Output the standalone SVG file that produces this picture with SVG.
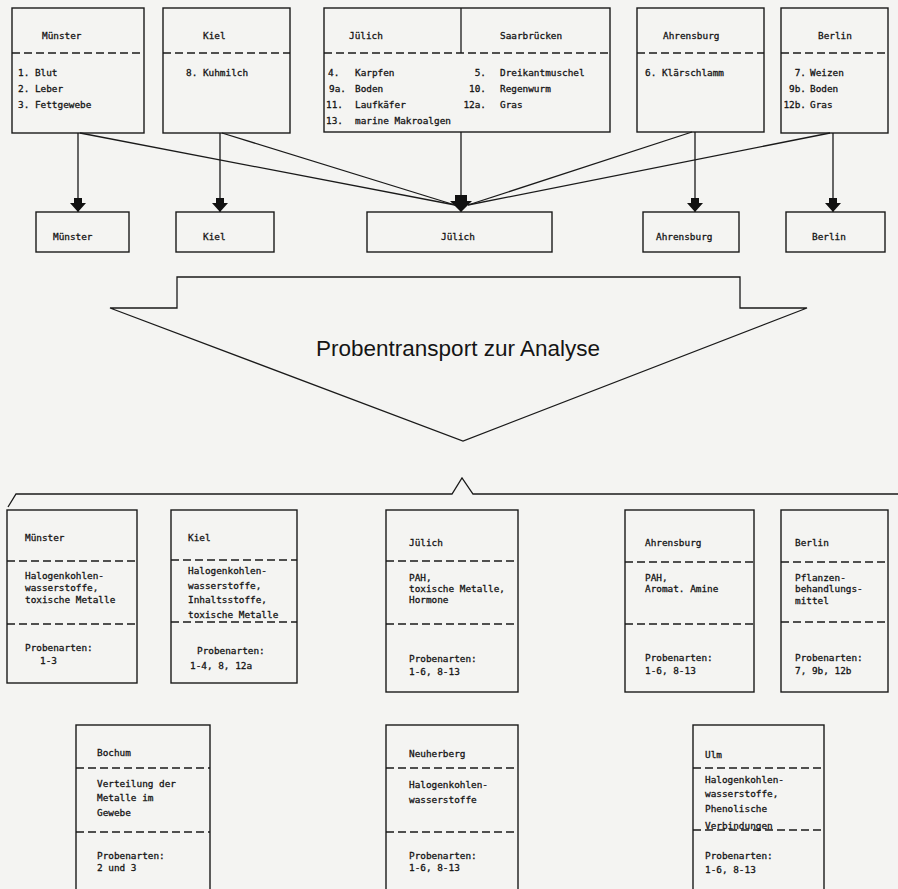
<svg xmlns="http://www.w3.org/2000/svg" width="898" height="889" viewBox="0 0 898 889">
<style>
.bx{fill:none;stroke:#1a1a1a;stroke-width:1.4}
.ds{fill:none;stroke:#1a1a1a;stroke-width:1.3;stroke-dasharray:8 4}
.ln{fill:none;stroke:#1a1a1a;stroke-width:1.3}
.t{font-family:"DejaVu Sans Mono","Liberation Mono",monospace;font-size:9.4px;fill:#151515;stroke:#151515;stroke-width:0.3}
.e{text-anchor:end}
.big{font-family:"Liberation Sans",Arial,sans-serif;font-size:22.5px;fill:#151515;text-anchor:middle}
</style>
<defs>
<marker id="ah" markerUnits="userSpaceOnUse" viewBox="-15 -10 16 20" markerWidth="16" markerHeight="20" refX="0" refY="0" orient="auto">
<path d="M-14,-4 L-9,-4 L-9,-8 L0,0 L-9,8 L-9,4 L-14,4 Z" fill="#111"/>
</marker>
<marker id="ahb" markerUnits="userSpaceOnUse" viewBox="-18 -12 19 24" markerWidth="19" markerHeight="24" refX="0" refY="0" orient="auto">
<path d="M-17,-6 L-11,-6 L-11,-11 L0,0 L-11,11 L-11,6 L-17,6 Z" fill="#111"/>
</marker>
</defs>
<rect x="0" y="0" width="898" height="889" fill="#f4f4f2"/>

<!-- top source boxes -->
<g id="src-muenster">
<rect class="bx" x="12" y="8" width="132" height="125"/>
<line class="ds" x1="12" y1="53" x2="144" y2="53"/>
<text class="t" x="42" y="39">Münster</text>
<text class="t" x="18" y="76">1. Blut</text>
<text class="t" x="18" y="92">2. Leber</text>
<text class="t" x="18" y="108">3. Fettgewebe</text>
</g>
<g id="src-kiel">
<rect class="bx" x="163" y="8" width="127" height="125"/>
<line class="ds" x1="163" y1="53" x2="290" y2="53"/>
<text class="t" x="203" y="39">Kiel</text>
<text class="t" x="186" y="76">8. Kuhmilch</text>
</g>
<g id="src-juelich-saarbruecken">
<rect class="bx" x="324" y="8" width="286" height="124"/>
<line class="ln" x1="461" y1="8" x2="461" y2="53"/>
<line class="ds" x1="324" y1="53" x2="610" y2="53"/>
<text class="t" x="349" y="39">Jülich</text>
<text class="t" x="500" y="39">Saarbrücken</text>
<text class="t" x="328" y="76">4.</text><text class="t" x="355" y="76">Karpfen</text>
<text class="t" x="329" y="92">9a.</text><text class="t" x="355" y="92">Boden</text>
<text class="t" x="326" y="108">11.</text><text class="t" x="355" y="108">Laufkäfer</text>
<text class="t" x="326" y="124">13.</text><text class="t" x="355" y="124">marine Makroalgen</text>
<text class="t e" x="486" y="76">5.</text><text class="t" x="500" y="76">Dreikantmuschel</text>
<text class="t e" x="486" y="92">10.</text><text class="t" x="500" y="92">Regenwurm</text>
<text class="t e" x="486" y="108">12a.</text><text class="t" x="500" y="108">Gras</text>
</g>
<g id="src-ahrensburg">
<rect class="bx" x="637" y="8" width="127" height="124"/>
<line class="ds" x1="637" y1="53" x2="764" y2="53"/>
<text class="t" x="663" y="39">Ahrensburg</text>
<text class="t" x="645" y="76">6. Klärschlamm</text>
</g>
<g id="src-berlin">
<rect class="bx" x="781" y="8" width="107" height="125"/>
<line class="ds" x1="781" y1="53" x2="888" y2="53"/>
<text class="t" x="818" y="39">Berlin</text>
<text class="t e" x="806" y="76">7.</text><text class="t" x="810" y="76">Weizen</text>
<text class="t e" x="806" y="92">9b.</text><text class="t" x="810" y="92">Boden</text>
<text class="t e" x="806" y="108">12b.</text><text class="t" x="810" y="108">Gras</text>
</g>

<!-- connectors -->
<g id="connectors">
<line class="ln" x1="78" y1="133" x2="78" y2="212" marker-end="url(#ah)"/>
<line class="ln" x1="220" y1="133" x2="220" y2="212" marker-end="url(#ah)"/>
<line class="ln" x1="461" y1="132" x2="461" y2="212" marker-end="url(#ahb)"/>
<line class="ln" x1="695" y1="132" x2="695" y2="212" marker-end="url(#ah)"/>
<line class="ln" x1="833" y1="133" x2="833" y2="212" marker-end="url(#ah)"/>
<line class="ln" x1="80" y1="133" x2="455" y2="205"/>
<line class="ln" x1="222" y1="133" x2="455" y2="205"/>
<line class="ln" x1="692" y1="132" x2="468" y2="205"/>
<line class="ln" x1="830" y1="133" x2="468" y2="205"/>
</g>

<!-- destination boxes -->
<g id="dst-muenster"><rect class="bx" x="36" y="212" width="93" height="40"/><text class="t" x="53" y="240">Münster</text></g>
<g id="dst-kiel"><rect class="bx" x="176" y="212" width="98" height="40"/><text class="t" x="203" y="240">Kiel</text></g>
<g id="dst-juelich"><rect class="bx" x="367" y="212" width="185" height="40"/><text class="t" x="441" y="240">Jülich</text></g>
<g id="dst-ahrensburg"><rect class="bx" x="643" y="212" width="96" height="40"/><text class="t" x="656" y="240">Ahrensburg</text></g>
<g id="dst-berlin"><rect class="bx" x="786" y="212" width="99" height="40"/><text class="t" x="812" y="240">Berlin</text></g>

<!-- big arrow -->
<g id="transport-arrow">
<polygon class="ln" points="177,277 740,277 740,308 807,308 463,441 110,308 177,308"/>
<text class="big" x="458" y="356">Probentransport zur Analyse</text>
</g>

<!-- bracket -->
<g id="bracket">
<polyline class="ln" points="8,507 16,494 452,494 462,478 473,494 898,494"/>
</g>

<!-- analysis boxes row 1 -->
<g id="ana-muenster">
<rect class="bx" x="7" y="510" width="130" height="173"/>
<line class="ds" x1="7" y1="561" x2="137" y2="561"/>
<line class="ds" x1="7" y1="624" x2="137" y2="624"/>
<text class="t" x="25" y="541">Münster</text>
<text class="t" x="25" y="579">Halogenkohlen-</text>
<text class="t" x="25" y="591">wasserstoffe,</text>
<text class="t" x="25" y="603">toxische Metalle</text>
<text class="t" x="25" y="651">Probenarten:</text>
<text class="t" x="40" y="664">1-3</text>
</g>
<g id="ana-kiel">
<rect class="bx" x="171" y="510" width="126" height="173"/>
<line class="ds" x1="171" y1="560" x2="297" y2="560"/>
<line class="ds" x1="171" y1="622" x2="297" y2="622"/>
<text class="t" x="188" y="541">Kiel</text>
<text class="t" x="188" y="574">Halogenkohlen-</text>
<text class="t" x="188" y="589">wasserstoffe,</text>
<text class="t" x="188" y="603">Inhaltsstoffe,</text>
<text class="t" x="188" y="618">toxische Metalle</text>
<text class="t" x="197" y="654">Probenarten:</text>
<text class="t" x="190" y="669">1-4, 8, 12a</text>
</g>
<g id="ana-juelich">
<rect class="bx" x="386" y="510" width="132" height="182"/>
<line class="ds" x1="386" y1="561" x2="518" y2="561"/>
<line class="ds" x1="386" y1="624" x2="518" y2="624"/>
<text class="t" x="409" y="546">Jülich</text>
<text class="t" x="409" y="581">PAH,</text>
<text class="t" x="409" y="592">toxische Metalle,</text>
<text class="t" x="409" y="603">Hormone</text>
<text class="t" x="409" y="662">Probenarten:</text>
<text class="t" x="409" y="675">1-6, 8-13</text>
</g>
<g id="ana-ahrensburg">
<rect class="bx" x="625" y="510" width="129" height="182"/>
<line class="ds" x1="625" y1="562" x2="754" y2="562"/>
<line class="ds" x1="625" y1="624" x2="754" y2="624"/>
<text class="t" x="645" y="546">Ahrensburg</text>
<text class="t" x="645" y="581">PAH,</text>
<text class="t" x="645" y="592">Aromat. Amine</text>
<text class="t" x="645" y="661">Probenarten:</text>
<text class="t" x="645" y="674">1-6, 8-13</text>
</g>
<g id="ana-berlin">
<rect class="bx" x="781" y="510" width="107" height="182"/>
<line class="ds" x1="781" y1="562" x2="888" y2="562"/>
<line class="ds" x1="781" y1="622" x2="888" y2="622"/>
<text class="t" x="795" y="546">Berlin</text>
<text class="t" x="795" y="581">Pflanzen-</text>
<text class="t" x="795" y="592">behandlungs-</text>
<text class="t" x="795" y="604">mittel</text>
<text class="t" x="795" y="661">Probenarten:</text>
<text class="t" x="795" y="674">7, 9b, 12b</text>
</g>

<!-- analysis boxes row 2 -->
<g id="ana-bochum">
<rect class="bx" x="76" y="725" width="134" height="180"/>
<line class="ds" x1="76" y1="768" x2="210" y2="768"/>
<line class="ds" x1="76" y1="832" x2="210" y2="832"/>
<text class="t" x="97" y="756">Bochum</text>
<text class="t" x="97" y="787">Verteilung der</text>
<text class="t" x="97" y="801">Metalle im</text>
<text class="t" x="97" y="816">Gewebe</text>
<text class="t" x="97" y="859">Probenarten:</text>
<text class="t" x="97" y="871">2 und 3</text>
</g>
<g id="ana-neuherberg">
<rect class="bx" x="386" y="725" width="132" height="180"/>
<line class="ds" x1="386" y1="768" x2="518" y2="768"/>
<line class="ds" x1="386" y1="832" x2="518" y2="832"/>
<text class="t" x="409" y="757">Neuherberg</text>
<text class="t" x="409" y="788">Halogenkohlen-</text>
<text class="t" x="409" y="803">wasserstoffe</text>
<text class="t" x="409" y="859">Probenarten:</text>
<text class="t" x="409" y="871">1-6, 8-13</text>
</g>
<g id="ana-ulm">
<rect class="bx" x="693" y="725" width="131" height="180"/>
<line class="ds" x1="693" y1="768" x2="824" y2="768"/>
<line class="ds" x1="693" y1="830" x2="824" y2="830"/>
<text class="t" x="705" y="758">Ulm</text>
<text class="t" x="705" y="783">Halogenkohlen-</text>
<text class="t" x="705" y="797">wasserstoffe,</text>
<text class="t" x="705" y="812">Phenolische</text>
<text class="t" x="705" y="829">Verbindungen</text>
<text class="t" x="705" y="859">Probenarten:</text>
<text class="t" x="705" y="873">1-6, 8-13</text>
</g>
</svg>
